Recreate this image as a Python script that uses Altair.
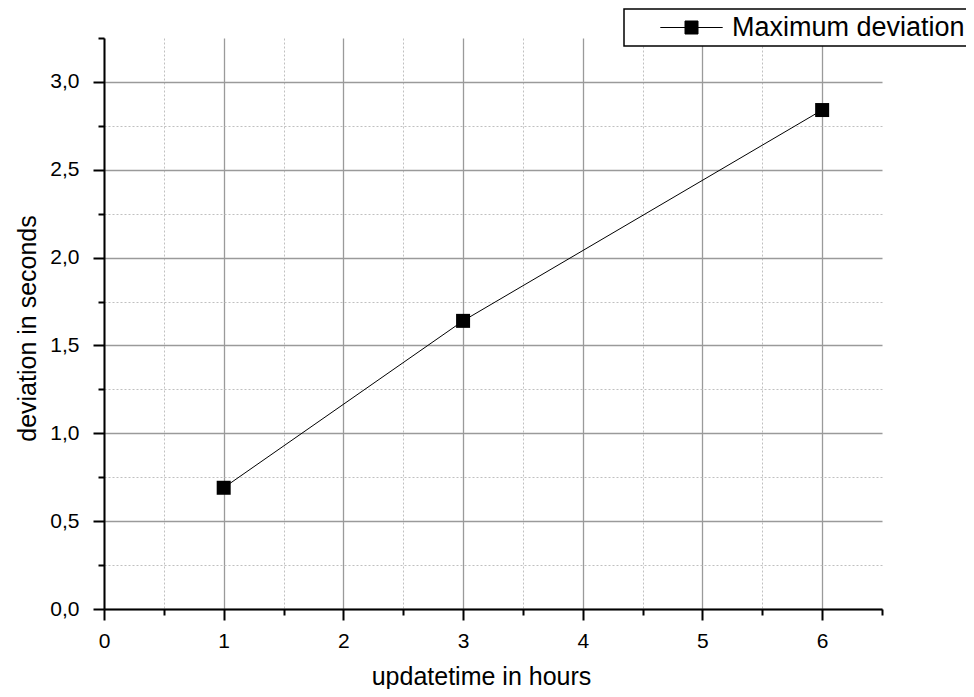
import altair as alt
import pandas as pd

# ---- data ----
hours = [1, 3, 6]
max_deviation = [0.69, 1.64, 2.84]
series_name = ["Maximum deviation", "Maximum deviation", "Maximum deviation"]

x_tick_values = [0, 0.5, 1, 1.5, 2, 2.5, 3, 3.5, 4, 4.5, 5, 5.5, 6, 6.5]
y_tick_values = [0, 0.25, 0.5, 0.75, 1.0, 1.25, 1.5, 1.75, 2.0, 2.25, 2.5,
                 2.75, 3.0, 3.25]
x_domain = [0, 6.5]
y_domain = [0, 3.25]

df = pd.DataFrame({"hours": hours, "dev": max_deviation, "series": series_name})

FONT = "Liberation Sans"
MAJOR_GRID = "#9a9a9a"
MINOR_GRID = "#c0c0c0"

x_minor = "datum.value % 1 != 0"
y_minor = "datum.value % 0.5 != 0"

x_axis = alt.Axis(
    values=x_tick_values,
    title="updatetime in hours",
    labelExpr="datum.value % 1 == 0 ? format(datum.value, 'd') : ''",
    labelOverlap=False, labelFlush=False,
    labelFont=FONT, labelFontSize=21, labelColor="black", labelPadding=10,
    domainColor="black", domainWidth=2,
    tickColor="black", tickWidth=2,
    tickSize={"condition": {"test": x_minor, "value": 6}, "value": 11},
    grid=True,
    gridColor={"condition": {"test": x_minor, "value": MINOR_GRID}, "value": MAJOR_GRID},
    gridDash={"condition": {"test": x_minor, "value": [2, 2]}, "value": []},
    gridWidth={"condition": {"test": x_minor, "value": 1}, "value": 1.3},
    gridOpacity={"condition": {"test": "datum.value >= 6.5", "value": 0}, "value": 1},
    titleFont=FONT, titleFontSize=25, titleFontWeight="normal", titleColor="black",
    titleAlign="center", titleBaseline="alphabetic", titleX=377, titleY=75,
)

y_axis = alt.Axis(
    values=y_tick_values,
    title="deviation in seconds",
    labelExpr="datum.value % 0.5 == 0 ? replace(format(datum.value, '.1f'), '.', ',') : ''",
    labelOverlap=False, labelFlush=False,
    labelFont=FONT, labelFontSize=21, labelColor="black", labelPadding=14,
    domainColor="black", domainWidth=2,
    tickColor="black", tickWidth=2,
    tickSize={"condition": {"test": y_minor, "value": 6}, "value": 11},
    grid=True,
    gridColor={"condition": {"test": y_minor, "value": MINOR_GRID}, "value": MAJOR_GRID},
    gridDash={"condition": {"test": y_minor, "value": [2, 2]}, "value": []},
    gridWidth={"condition": {"test": y_minor, "value": 1}, "value": 1.3},
    gridOpacity={"condition": {"test": "datum.value >= 3.25", "value": 0}, "value": 1},
    titleFont=FONT, titleFontSize=25, titleFontWeight="normal", titleColor="black",
    titleAngle=270, titleAlign="center", titleBaseline="alphabetic",
    titleX=-69, titleY=290,
)

legend = alt.Legend(
    title=None, orient="none", legendX=520, legendY=-29,
    symbolType="M-4.8,0H-1M1,0H4.8M-1,-1H1V1H-1Z", symbolSize=169,
    symbolFillColor="black", symbolStrokeColor="black", symbolStrokeWidth=1,
    symbolOpacity=1, symbolOffset=49, labelOffset=27,
    labelFont=FONT, labelFontSize=27, labelColor="black", labelLimit=500,
    fillColor="white", padding=5,
)

color = alt.Color("series:N", scale=alt.Scale(range=["black"]), legend=legend)

base = alt.Chart(df).encode(
    x=alt.X("hours:Q", scale=alt.Scale(domain=x_domain, nice=False, zero=False), axis=x_axis),
    y=alt.Y("dev:Q", scale=alt.Scale(domain=y_domain, nice=False, zero=False), axis=y_axis),
    color=color,
)

line = base.mark_line(strokeWidth=1)
points = base.mark_point(shape="square", filled=True, size=196, opacity=1)

chart = alt.layer(line, points).properties(
    width=778,
    height=571,
    autosize=alt.AutoSizeParams(type="none"),
    padding={"left": 96, "top": 30, "right": 84, "bottom": 80},
    background="white",
).configure_view(stroke=None).configure_legend(strokeColor="black", strokeWidth=1.5)

chart.save("out.html", embed_options={"renderer": "svg", "actions": False})
